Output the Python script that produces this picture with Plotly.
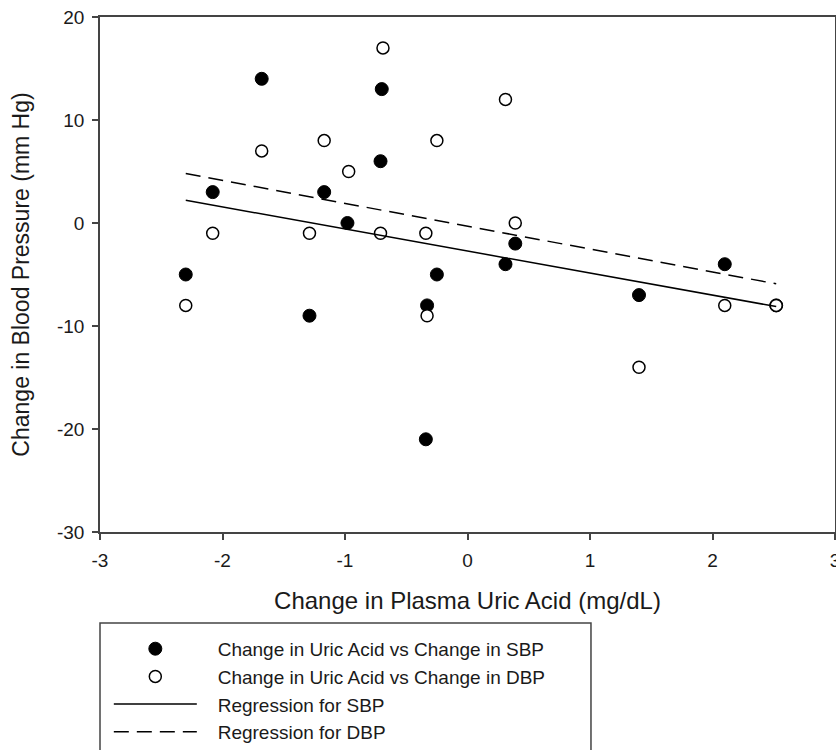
import plotly.graph_objects as go

# Data
uric_acid_change = [-2.30, -2.08, -1.68, -1.29, -1.17, -0.98, -0.70, -0.71,
                    -0.33, -0.34, -0.25, 0.31, 0.39, 1.40, 2.10, 2.52]
sbp_change = [-5, 3, 14, -9, 3, 0, 13, 6, -8, -21, -5, -4, -2, -7, -4, -8]

uric_acid_change_dbp = [-2.30, -2.08, -1.68, -1.29, -1.17, -0.97, -0.69, -0.71,
                        -0.34, -0.33, -0.25, 0.31, 0.39, 1.40, 2.10, 2.52]
dbp_change = [-8, -1, 7, -1, 8, 5, 17, -1, -1, -9, 8, 12, 0, -14, -8, -8]

# Regression fits: (intercept, slope)
sbp_fit = (-2.72, -2.14)
dbp_fit = (-0.31, -2.22)

x_ticks = [-3, -2, -1, 0, 1, 2, 3]
y_ticks = [-30, -20, -10, 0, 10, 20]

legend_names = ["Change in Uric Acid vs Change in SBP",
                "Change in Uric Acid vs Change in DBP",
                "Regression for SBP",
                "Regression for DBP"]

xmin, xmax = min(uric_acid_change), max(uric_acid_change)
fit_x = [xmin, xmax]
sbp_line = [sbp_fit[0] + sbp_fit[1] * v for v in fit_x]
dbp_line = [dbp_fit[0] + dbp_fit[1] * v for v in fit_x]

FONT = "Liberation Sans, Arial, sans-serif"
INK = "#1a1a1a"
PAD = "\u00a0\u00a0\u00a0"

fig = go.Figure()
fig.add_trace(go.Scatter(
    x=uric_acid_change, y=sbp_change, mode="markers", name=PAD + legend_names[0],
    marker=dict(symbol="circle", size=13, color="black",
                line=dict(color="black", width=1))))
fig.add_trace(go.Scatter(
    x=uric_acid_change_dbp, y=dbp_change, mode="markers", name=PAD + legend_names[1],
    marker=dict(symbol="circle", size=12, color="white",
                line=dict(color="black", width=1.5))))
fig.add_trace(go.Scatter(
    x=fit_x, y=sbp_line, mode="lines", name=PAD + legend_names[2],
    line=dict(color="black", width=1.5)))
fig.add_trace(go.Scatter(
    x=fit_x, y=dbp_line, mode="lines", name=PAD + legend_names[3],
    line=dict(color="black", width=1.5, dash="15px,8px")))

axis_common = dict(
    showgrid=False, zeroline=False, showline=True, mirror=True,
    linecolor="#444444", linewidth=1.5, ticks="outside", ticklen=6,
    tickwidth=1.5, tickcolor="#444444", ticklabeloverflow="allow",
    tickfont=dict(family=FONT, size=19, color=INK),
)

fig.update_layout(
    width=836, height=750,
    margin=dict(l=100, r=1, t=17, b=218, autoexpand=False),
    paper_bgcolor="white", plot_bgcolor="white",
    font=dict(family=FONT, color=INK),
    xaxis=dict(range=[-3, 3], tickvals=x_ticks, ticktext=[str(t) for t in x_ticks],
               automargin=False,
               title=dict(text="Change in Plasma Uric Acid (mg/dL)",
                          font=dict(family=FONT, size=24, color=INK), standoff=23),
               ticklabelstandoff=4, **axis_common),
    yaxis=dict(range=[-30, 20], tickvals=y_ticks, ticktext=[str(t) for t in y_ticks],
               automargin=False,
               title=dict(text="Change in Blood Pressure (mm Hg)",
                          font=dict(family=FONT, size=23, color=INK), standoff=21),
               ticklabelstandoff=4, **axis_common),
    showlegend=True,
    legend=dict(x=0.012, y=-0.19, xanchor="left", yanchor="top",
                bgcolor="rgba(0,0,0,0)", borderwidth=0,
                font=dict(family=FONT, size=19, color=INK),
                itemwidth=83, tracegroupgap=0),
    shapes=[dict(type="rect", xref="paper", yref="paper",
                 x0=0, x1=0.668, y0=-0.65, y1=-0.1767,
                 line=dict(color="#444444", width=1.5))],
)

fig.write_html("out.html",
               config={"displayModeBar": False},
               post_script="document.body.style.margin='0';document.body.style.overflow='hidden';")
